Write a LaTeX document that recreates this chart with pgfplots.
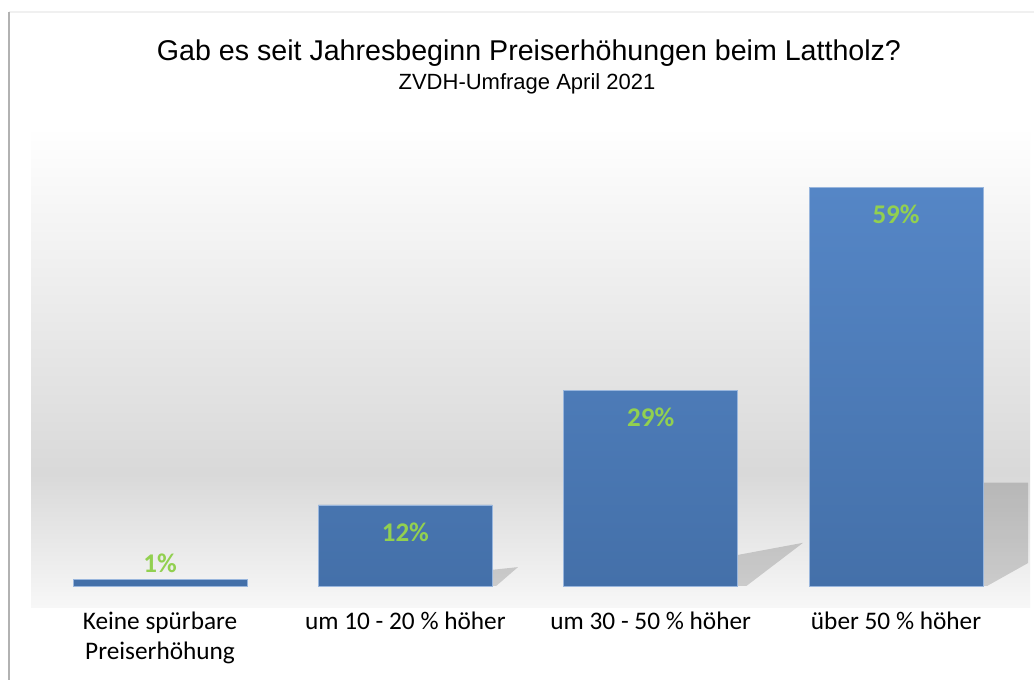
\documentclass[border=0pt]{standalone}
\usepackage{fontspec}
\setmainfont{Carlito}
\newfontfamily\arial{Liberation Sans}
\usepackage{pgfplots}
\pgfplotsset{compat=1.18}
\definecolor{barTop}{HTML}{5586C6}
\definecolor{barBot}{HTML}{4470A9}
\definecolor{lblgreen}{HTML}{92D050}
\pgfdeclareverticalshading{bgshade}{100bp}{color(0bp)=(white!97!black); color(25bp)=(white!97!black); color(39bp)=(white!85!black); color(75bp)=(white); color(100bp)=(white)}
\pgfplotstableread{
x y s
0 1 16
1 12 -27
2 29 -27
3 59 -27
}\datatable
\begin{document}
\begin{tikzpicture}
\useasboundingbox (0,0) rectangle (1034pt,680pt);
\fill[white] (0,0) rectangle (1034pt,680pt);
\draw[black!6, line width=1.5pt] (9pt,668pt) -- (1034pt,668pt);
\draw[black!30, line width=2.5pt] (9pt,0pt) -- (9pt,668pt);
\node[font=\arial\fontsize{28.6}{30}\selectfont, anchor=base] at (529pt,619pt) {Gab es seit Jahresbeginn Preiserhöhungen beim Lattholz?};
\node[font=\arial\fontsize{22}{24}\selectfont, anchor=base] at (527pt,590pt) {ZVDH-Umfrage April 2021};
\begin{axis}[
  at={(31pt,72pt)}, anchor=south west,
  scale only axis, width=999pt, height=481pt,
  xmin=-0.526, xmax=3.546, ymin=-3.26, ymax=68,
  axis line style={draw=none}, tick style={draw=none},
  ytick=\empty,
  xtick={0,1,2,3},
  xticklabels={{Keine spürbare\\Preiserhöhung},{um 10 - 20 \% höher},{um 30 - 50 \% höher},{über 50 \% höher}},
  xticklabel style={font=\fontsize{25.3}{30}\selectfont, align=center, anchor=north, inner sep=0pt, yshift=-4pt},
  axis background/.style={shading=bgshade},
]
\path[fill=black, fill opacity=0.16] (axis cs:1.3546,0) -- (axis cs:1.3546,2.4) -- (axis cs:1.459,2.8) -- (axis cs:1.37,0) -- cycle;
\path[fill=black, fill opacity=0.16] (axis cs:2.3546,0) -- (axis cs:2.3546,4.6) -- (axis cs:2.621,6.4) -- (axis cs:2.39,0) -- cycle;
\path[fill=black, fill opacity=0.16] (axis cs:3.3546,0) -- (axis cs:3.3546,15.3) -- (axis cs:3.538,15.3) -- (axis cs:3.538,3.4) -- (axis cs:3.371,0) -- cycle;
\addplot[ybar, bar width=174pt, top color=barTop, bottom color=barBot, draw=barTop!60!white, line width=0.6pt,
  visualization depends on={\thisrow{s}\as\lshift},
  nodes near coords={\pgfmathprintnumber[assume math mode=true]{\pgfplotspointmeta}\%},
  nodes near coords style={font=\bfseries\fontsize{27}{27}\selectfont, text=lblgreen, anchor=center, yshift=\lshift pt},
] table[x=x,y=y]{\datatable};
\end{axis}
\end{tikzpicture}
\end{document}
